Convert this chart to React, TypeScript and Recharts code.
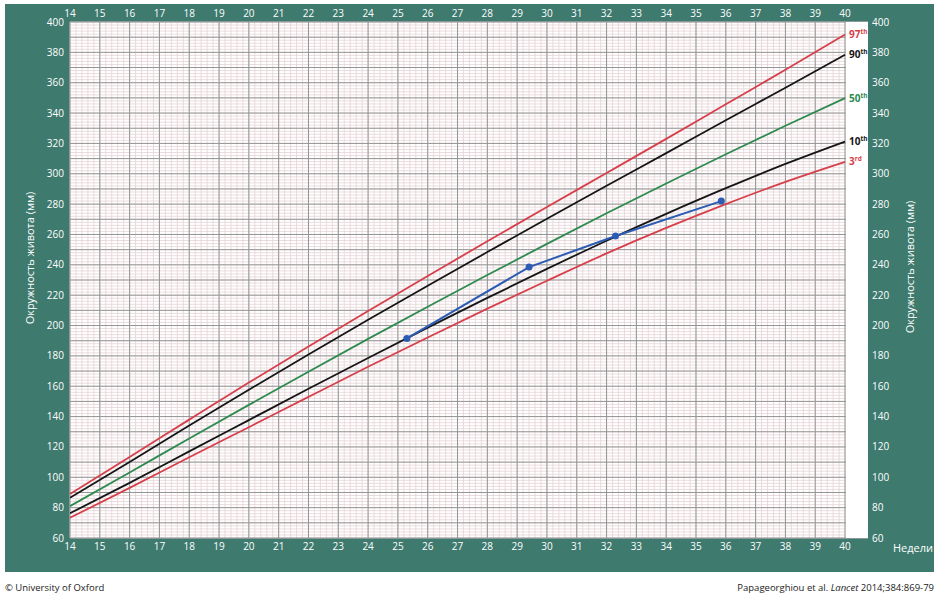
import React from 'react';
import { LineChart, Line, XAxis, YAxis, CartesianGrid, ReferenceArea } from 'recharts';

const weeks = [14, 16, 18, 20, 22, 24, 26, 28, 30, 32, 34, 36, 38, 40];
const p97 = [89.0, 113.4, 138.0, 162.4, 186.2, 209.6, 232.7, 255.5, 278.1, 300.5, 323.0, 345.8, 368.5, 391.8];
const p90 = [86.5, 110.1, 134.1, 157.7, 180.9, 203.8, 226.2, 248.4, 270.4, 292.1, 313.6, 335.3, 356.7, 378.4];
const p50 = [81.0, 103.2, 125.6, 147.7, 169.6, 191.2, 212.4, 233.3, 253.8, 274.0, 293.6, 312.9, 331.6, 349.8];
const p10 = [76.3, 96.3, 117.1, 137.7, 158.3, 178.6, 198.6, 218.2, 237.3, 255.9, 273.6, 290.5, 306.5, 321.2];
const p3 = [73.3, 93.0, 113.2, 133.0, 153.0, 172.8, 192.1, 211.1, 229.5, 247.5, 264.3, 280.0, 294.7, 307.9];

const patientWeeks = [25.3, 29.4, 32.3, 35.85];
const patientAC = [191.5, 238.5, 259.0, 282.0];

const xTicks = [14, 15, 16, 17, 18, 19, 20, 21, 22, 23, 24, 25, 26, 27, 28, 29, 30, 31, 32, 33, 34, 35, 36, 37, 38, 39, 40];
const yTicks = [60, 80, 100, 120, 140, 160, 180, 200, 220, 240, 260, 280, 300, 320, 340, 360, 380, 400];

const data = weeks.map((w, i) => ({ ga: w, p97: p97[i], p90: p90[i], p50: p50[i], p10: p10[i], p3: p3[i] }));
const patient = patientWeeks.map((w, i) => ({ ga: w, ac: patientAC[i] }));

const minorX: number[] = [];
for (let k = 0; k <= 130; k++) minorX.push(+(14 + k * 0.2).toFixed(1));
const minorY: number[] = [];
for (let v = 60; v <= 400; v += 2) minorY.push(v);
const majorY: number[] = [];
for (let v = 60; v <= 400; v += 10) majorY.push(v);

const TEAL = '#3e7a6e';
const RED = '#d73f4b';
const GREEN = '#2e8a4f';
const BLACK = '#151515';
const BLUE = '#2c5cb3';
const FONT = '"Open Sans", sans-serif';

const tickStyle = { fill: '#ffffff', fontSize: 10, fontFamily: FONT };

const endLabel = (name: string, sup: string, color: string) => (props: any) => {
  if (props.index !== weeks.length - 1) return null;
  return (
    <text x={props.x + 4} y={props.y + 3.5} fill={color} fontSize={10} fontWeight={700} fontFamily={FONT}>
      {name}
      <tspan fontSize={6.5} dy={-4}>{sup}</tspan>
    </text>
  );
};

export default function App() {
  return (
    <div style={{ position: 'absolute', left: 0, top: 0, width: 944, height: 600, background: '#fff' }}>
      <div style={{ position: 'absolute', left: 5, top: 4, width: 929, height: 568, background: TEAL }} />
      <div style={{ position: 'absolute', left: 0, top: 0 }}>
        <LineChart width={944} height={600} data={data} margin={{ top: 21, right: 75, bottom: 61, left: 69 }}>
          <CartesianGrid xAxisId="b" yAxisId="l" verticalValues={minorX} horizontalValues={minorY} stroke="#e4d3d6" strokeWidth={0.8} fill="#ffffff" fillOpacity={1} />
          <CartesianGrid xAxisId="b" yAxisId="l" verticalValues={xTicks} horizontalValues={majorY} stroke="#959595" strokeWidth={1} />
          <ReferenceArea xAxisId="b" yAxisId="l" x1={40.03} x2={40.77} y1={60} y2={400} fill="#ffffff" fillOpacity={1} stroke="none" ifOverflow="hidden" />
          <XAxis xAxisId="b" dataKey="ga" type="number" domain={[14, 40.77]} allowDataOverflow ticks={xTicks} interval={0} axisLine={false} tickLine={false} tickSize={5} tickMargin={0} tick={tickStyle} height={1} />
          <XAxis xAxisId="t" orientation="top" dataKey="ga" type="number" domain={[14, 40.77]} allowDataOverflow ticks={xTicks} interval={0} axisLine={false} tickLine={false} tickSize={5} tickMargin={0} tick={tickStyle} height={1} />
          <YAxis yAxisId="l" type="number" domain={[60, 400]} allowDataOverflow ticks={yTicks} interval={0} axisLine={false} tickLine={false} tickSize={6} tickMargin={0} tick={tickStyle} width={1} />
          <YAxis yAxisId="r" orientation="right" type="number" domain={[60, 400]} allowDataOverflow ticks={yTicks} interval={0} axisLine={false} tickLine={false} tickSize={4} tickMargin={0} tick={{ ...tickStyle, textAnchor: 'start' }} width={1} />
          <Line xAxisId="b" yAxisId="l" type="monotone" dataKey="p97" stroke={RED} strokeWidth={1.8} dot={false} isAnimationActive={false} label={endLabel('97', 'th', RED)} />
          <Line xAxisId="b" yAxisId="l" type="monotone" dataKey="p90" stroke={BLACK} strokeWidth={1.8} dot={false} isAnimationActive={false} label={endLabel('90', 'th', BLACK)} />
          <Line xAxisId="b" yAxisId="l" type="monotone" dataKey="p50" stroke={GREEN} strokeWidth={1.8} dot={false} isAnimationActive={false} label={endLabel('50', 'th', GREEN)} />
          <Line xAxisId="b" yAxisId="l" type="monotone" dataKey="p10" stroke={BLACK} strokeWidth={1.8} dot={false} isAnimationActive={false} label={endLabel('10', 'th', BLACK)} />
          <Line xAxisId="b" yAxisId="l" type="monotone" dataKey="p3" stroke={RED} strokeWidth={1.8} dot={false} isAnimationActive={false} label={endLabel('3', 'rd', RED)} />
          <Line xAxisId="b" yAxisId="l" data={patient} type="linear" dataKey="ac" stroke={BLUE} strokeWidth={2} dot={{ r: 2.5, fill: BLUE, stroke: BLUE }} isAnimationActive={false} />
        </LineChart>
      </div>
      <svg width={944} height={600} style={{ position: 'absolute', left: 0, top: 0, pointerEvents: 'none' }}>
        <text x={29} y={258} transform="rotate(-90 29 258)" textAnchor="middle" dominantBaseline="central" fill="#fff" fontSize={11} fontFamily={FONT}>Окружность живота (мм)</text>
        <text x={909} y={267} transform="rotate(-90 909 267)" textAnchor="middle" dominantBaseline="central" fill="#fff" fontSize={11} fontFamily={FONT}>Окружность живота (мм)</text>
        <text x={893} y={552} fill="#fff" fontSize={11} fontFamily={FONT}>Недели</text>
        <text x={5} y={591} fill="#222" fontSize={9.5} fontFamily={FONT}>© University of Oxford</text>
        <text x={934} y={591} textAnchor="end" fill="#222" fontSize={9.5} fontFamily={FONT}>
          Papageorghiou et al. <tspan fontStyle="italic">Lancet</tspan> 2014;384:869-79
        </text>
      </svg>
    </div>
  );
}
